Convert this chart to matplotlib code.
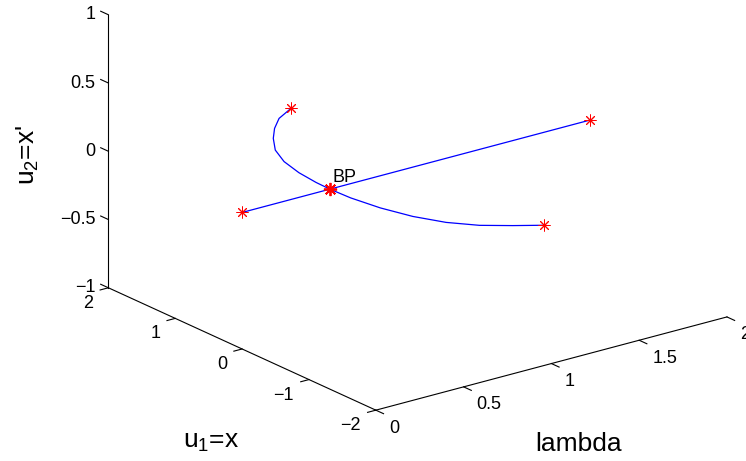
import numpy as np
import matplotlib
matplotlib.use('Agg')
import matplotlib.pyplot as plt
from matplotlib.transforms import offset_copy
from mpl_toolkits.mplot3d import proj3d

plt.rcParams['font.family'] = ['Liberation Sans', 'DejaVu Sans']
plt.rcParams['mathtext.fontset'] = 'custom'
plt.rcParams['mathtext.rm'] = 'Liberation Sans'
plt.rcParams['mathtext.it'] = 'Liberation Sans:italic'
plt.rcParams['mathtext.default'] = 'rm'

# trivial branch (u1 = u2 = 0)
triv_lam = [0.0, 0.5, 1.98]
triv_u1 = [0.0, 0.0, 0.0]
triv_u2 = [0.0, 0.0, 0.0]

# nontrivial branch through BP
br_lam = [0.995, 0.874, 0.779, 0.696, 0.611, 0.552, 0.518, 0.503, 0.5,
          0.506, 0.534, 0.584, 0.657, 0.754, 0.872, 0.989]
br_u1 = [1.883, 1.742, 1.56, 1.361, 1.108, 0.822, 0.51, 0.214, 0.0,
         -0.295, -0.665, -1.02, -1.326, -1.57, -1.758, -1.925]
br_u2 = [0.0] * len(br_lam)

bp = (0.5, 0.0, 0.0)

lam_ticks = [0, 0.5, 1, 1.5, 2]
u1_ticks = [-2, -1, 0, 1, 2]
u2_ticks = [-1, -0.5, 0, 0.5, 1]


def fmt(v):
    s = f"{v:g}"
    return s.replace('-', '\u2212')


fig = plt.figure(figsize=(7.46, 4.61), dpi=100)
# 3D axes sits in a square; make it large and centre it on the box
S = 900
cx, cy = 405.5, 461 - 178
ax = fig.add_axes([(cx - S / 2) / 746, (cy - S / 2) / 461, S / 746, S / 461],
                  projection='3d', proj_type='ortho')
ax.view_init(elev=20.4, azim=-127.3)
ax.set_box_aspect((1, 1, 0.66), zoom=0.743)
ax.set_xlim(0, 2)
ax.set_ylim(-2, 2)
ax.set_zlim(-1, 1)
ax.set_axis_off()
M = ax.get_proj()

# axis lines, MATLAB style
k = dict(color='black', lw=0.8)
ax.plot([0, 0], [2, 2], [-1, 1], **k)
ax.plot([0, 0], [-2, 2], [-1, -1], **k)
ax.plot([0, 2], [-2, -2], [-1, -1], **k)
for z in u2_ticks:
    ax.plot([0, 0], [2, 2.115], [z, z], **k)
for u in u1_ticks:
    ax.plot([0, -0.047], [u, u], [-1, -1], **k)
for l in lam_ticks:
    ax.plot([l, l], [-2, -2.115], [-1, -1], **k)


def label(p, s, dx, dy, **kw):
    # put a 2D text at the projected 3D point, shifted by (dx, dy) pixels
    x2, y2, _ = proj3d.proj_transform(p[0], p[1], p[2], M)
    tr = offset_copy(ax.transData, fig=fig, x=dx, y=dy, units='dots')
    return ax.text2D(x2, y2, s, transform=tr, **kw)


for z in u2_ticks:
    label((0, 2, z), fmt(z), -13, 0, ha='right', va='center', fontsize=13)
for u in u1_ticks:
    label((0, u, -1), fmt(u), -15, -15.5, ha='right', va='center',
          fontsize=13)
for l in lam_ticks:
    label((l, -2, -1), fmt(l), 13, -18, ha='left', va='center', fontsize=13)

label((0, 0, -1), 'u$_1$=x', -31, -93, ha='center', va='center',
      fontsize=19)
label((1, -2, -1), 'lambda', 27, -80, ha='center', va='center', fontsize=19)
label((0, 2, 0), "u$_2$=x'", -80, -4, ha='center', va='center',
      fontsize=19, rotation=90)

# branches
ax.plot(triv_lam, triv_u1, triv_u2, color='blue', lw=0.9)
ax.plot(br_lam, br_u1, br_u2, color='blue', lw=0.9)

star = dict(marker=(8, 2, 0), color='red', ms=8.5, mew=0.7, ls='none')
ax.plot([triv_lam[0], triv_lam[-1]], [triv_u1[0], triv_u1[-1]],
        [triv_u2[0], triv_u2[-1]], **star)
ax.plot([br_lam[0], br_lam[-1]], [br_u1[0], br_u1[-1]],
        [br_u2[0], br_u2[-1]], **star)
ax.plot([bp[0]], [bp[1]], [bp[2]], marker=(8, 2, 0), color='red', ms=9.5,
        mew=1.3, ls='none')
label(bp, 'BP', 3, 7, ha='left', va='baseline', fontsize=13)

fig.savefig('out.png', dpi=100)
